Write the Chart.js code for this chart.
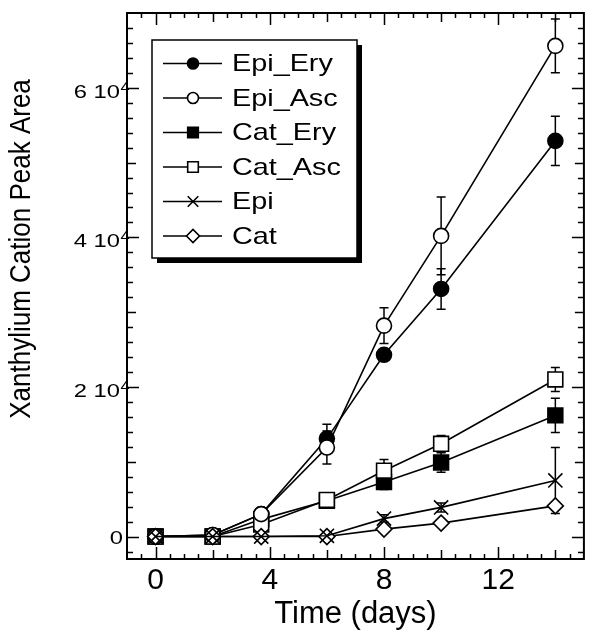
<!DOCTYPE html>
<html>
<head>
<meta charset="utf-8">
<script src="https://cdn.jsdelivr.net/npm/chart.js@4/dist/chart.umd.min.js"></script>
<style>
  html, body { margin: 0; padding: 0; background: #fff; }
</style>
</head>
<body>
<canvas id="peakChart" width="596" height="633"></canvas>
<script>
// data
const days = [0, 2, 3.7, 6, 8, 10, 14];
const seriesNames = ['Epi_Ery', 'Epi_Asc', 'Cat_Ery', 'Cat_Asc', 'Epi', 'Cat'];

const epiEry = [0, 200, 3000, 13100, 24300, 33100, 52900];
const epiAsc = [0, 200, 3000, 11900, 28200, 40200, 65600];
const catEry = [0, 0, 2300, 4800, 7300, 9900, 16200];
const catAsc = [0, 0, 1600, 4900, 8800, 12400, 21000];
const epi = [0, 0, 0, 100, 2400, 3900, 7500];
const cat = [0, 0, 0, 0, 1000, 1800, 4100];

// error bar half-heights
const epiEryErr = [0, 0, 0, 1900, 0, 2700, 3300];
const epiAscErr = [0, 0, 0, 2200, 2400, 5200, 3600];
const catEryErr = [0, 0, 0, 0, 1000, 1300, 2300];
const catAscErr = [0, 0, 0, 0, 1500, 1100, 1600];
const epiErr = [0, 0, 0, 0, 500, 600, 4400];
const catErr = [0, 0, 0, 0, 0, 0, 0];

const xTicks = [0, 4, 8, 12];
const yTicks = [0, 20000, 40000, 60000];
// mantissa and power of ten for the y labels ("6 10^4")
const yTickMant = ['0', '2 10', '4 10', '6 10'];
const yTickExp = ['', '4', '4', '4'];

const allValues = [epiEry, epiAsc, catEry, catAsc, epi, cat];
const allErrors = [epiEryErr, epiAscErr, catEryErr, catAscErr, epiErr, catErr];

const FONT = '"Liberation Sans", Arial, Helvetica, sans-serif';
const markerStyle = ['circle', 'circle', 'rect', 'rect', 'crossRot', 'rectRot'];
const markerFill = ['#000', '#fff', '#000', '#fff', '#fff', '#fff'];
const markerRadius = [7.5, 7.5, 10.5, 10.5, 10, 8];
const legendRadius = [5.5, 5.5, 7.5, 7.5, 7.5, 6.5];
const drawOrder = [2, 1, 2, 1, 0, 0];

const datasets = seriesNames.map((name, i) => ({
    label: name,
    data: days.map((d, j) => ({ x: d, y: allValues[i][j] })),
    borderColor: '#000',
    borderWidth: 1.6,
    pointStyle: markerStyle[i],
    pointRadius: markerRadius[i],
    pointBackgroundColor: markerFill[i],
    pointBorderColor: '#000',
    pointBorderWidth: 1.6,
    tension: 0,
    order: drawOrder[i],
    errors: allErrors[i]
}));

// error bars, drawn under the markers
const errorBars = {
    id: 'errorBars',
    beforeDatasetsDraw(chart) {
        const ctx = chart.ctx;
        const xs = chart.scales.x, ys = chart.scales.y;
        ctx.save();
        ctx.strokeStyle = '#000';
        ctx.lineWidth = 1.5;
        chart.data.datasets.forEach(ds => {
            ds.data.forEach((p, j) => {
                const e = ds.errors[j];
                if (!e) return;
                const px = xs.getPixelForValue(p.x);
                const top = ys.getPixelForValue(p.y + e);
                const bot = ys.getPixelForValue(p.y - e);
                ctx.beginPath();
                ctx.moveTo(px, top); ctx.lineTo(px, bot);
                ctx.moveTo(px - 4.5, top); ctx.lineTo(px + 4.5, top);
                ctx.moveTo(px - 4.5, bot); ctx.lineTo(px + 4.5, bot);
                ctx.stroke();
            });
        });
        ctx.restore();
    }
};

// frame with inward ticks on all four sides, y labels + title, boxed legend
const frameAndLegend = {
    id: 'frameAndLegend',
    afterDraw(chart) {
        const ctx = chart.ctx;
        const a = chart.chartArea;
        const xs = chart.scales.x, ys = chart.scales.y;
        ctx.save();
        ctx.strokeStyle = '#000';
        ctx.lineWidth = 2;
        ctx.strokeRect(a.left, a.top, a.right - a.left, a.bottom - a.top);

        ctx.lineWidth = 1.5;
        ctx.beginPath();
        for (let v = -0.5; v < 15; v += 0.5) {
            const len = v % 4 === 0 ? 12 : (v % 2 === 0 ? 9 : 5);
            const px = Math.round(xs.getPixelForValue(v)) + 0.5;
            ctx.moveTo(px, a.bottom); ctx.lineTo(px, a.bottom - len);
            ctx.moveTo(px, a.top); ctx.lineTo(px, a.top + len);
        }
        for (let v = -2000; v < 70000; v += 2000) {
            const len = v % 20000 === 0 ? 12 : (v % 10000 === 0 ? 9 : 6);
            const py = Math.round(ys.getPixelForValue(v)) + 0.5;
            ctx.moveTo(a.left, py); ctx.lineTo(a.left + len, py);
            ctx.moveTo(a.right, py); ctx.lineTo(a.right - len, py);
        }
        ctx.stroke();

        // y tick labels with superscript power
        ctx.fillStyle = '#000';
        yTicks.forEach((v, i) => {
            const py = ys.getPixelForValue(v);
            const hasExp = yTickExp[i] !== '';
            const right = hasExp ? 120 : 123;
            ctx.save();
            ctx.translate(right, py + (hasExp ? 10 : 7));
            ctx.scale(1.25, 1);
            ctx.font = '19px ' + FONT;
            ctx.textAlign = 'right';
            ctx.textBaseline = 'alphabetic';
            ctx.fillText(yTickMant[i], 0, 0);
            ctx.restore();
            if (hasExp) {
                ctx.save();
                ctx.translate(120.5, py + 4);
                ctx.scale(1.15, 1);
                ctx.font = '14px ' + FONT;
                ctx.textAlign = 'left';
                ctx.textBaseline = 'alphabetic';
                ctx.fillText(yTickExp[i], 0, 0);
                ctx.restore();
            }
        });

        // y axis title
        ctx.save();
        ctx.translate(22, 249);
        ctx.rotate(-Math.PI / 2);
        ctx.scale(1, 1.15);
        ctx.font = '26px ' + FONT;
        ctx.textAlign = 'center';
        ctx.textBaseline = 'middle';
        ctx.fillText('Xanthylium Cation Peak Area', 0, 0);
        ctx.restore();

        // legend box with shadow
        const bx = 152, by = 40, bw = 205, bh = 218;
        ctx.fillStyle = '#000';
        ctx.fillRect(bx + 5, by + 5, bw, bh);
        ctx.fillStyle = '#fff';
        ctx.fillRect(bx, by, bw, bh);
        ctx.lineWidth = 1.5;
        ctx.strokeRect(bx, by, bw, bh);

        chart.data.datasets.forEach((ds, i) => {
            const y = 63.5 + i * 34.5;
            ctx.strokeStyle = '#000';
            ctx.lineWidth = 1.6;
            ctx.beginPath();
            ctx.moveTo(163, y); ctx.lineTo(222, y);
            ctx.stroke();
            ctx.fillStyle = markerFill[i];
            Chart.helpers.drawPoint(ctx, {
                pointStyle: markerStyle[i],
                radius: legendRadius[i],
                borderWidth: 1.5,
                rotation: 0
            }, 193, y);
            ctx.save();
            ctx.translate(232, y + 1);
            ctx.scale(1.2, 1);
            ctx.fillStyle = '#000';
            ctx.font = '24px ' + FONT;
            ctx.textAlign = 'left';
            ctx.textBaseline = 'middle';
            ctx.fillText(ds.label, 0, 0);
            ctx.restore();
        });
        ctx.restore();
    }
};

const peakChart = new Chart(document.getElementById('peakChart').getContext('2d'), {
    type: 'line',
    data: { datasets: datasets },
    options: {
        responsive: false,
        animation: false,
        layout: { padding: { top: 13, right: 3, left: 0, bottom: 0 } },
        plugins: {
            legend: { display: false },
            tooltip: { enabled: false }
        },
        scales: {
            x: {
                type: 'linear',
                min: -1,
                max: 15,
                afterBuildTicks: s => { s.ticks = xTicks.map(v => ({ value: v })); },
                afterFit: s => { s.height = 74; },
                grid: { display: false, drawTicks: false },
                border: { display: false },
                ticks: {
                    color: '#000',
                    padding: 4,
                    maxRotation: 0,
                    font: { family: FONT, size: 30 }
                },
                title: {
                    display: true,
                    text: 'Time (days)',
                    color: '#000',
                    padding: { top: 0, bottom: 0 },
                    font: { family: FONT, size: 31 }
                }
            },
            y: {
                type: 'linear',
                min: -3000,
                max: 70000,
                afterBuildTicks: s => { s.ticks = yTicks.map(v => ({ value: v })); },
                afterFit: s => { s.width = 127; },
                grid: { display: false, drawTicks: false },
                border: { display: false },
                ticks: { display: false }
            }
        }
    },
    plugins: [errorBars, frameAndLegend]
});
</script>
</body>
</html>
